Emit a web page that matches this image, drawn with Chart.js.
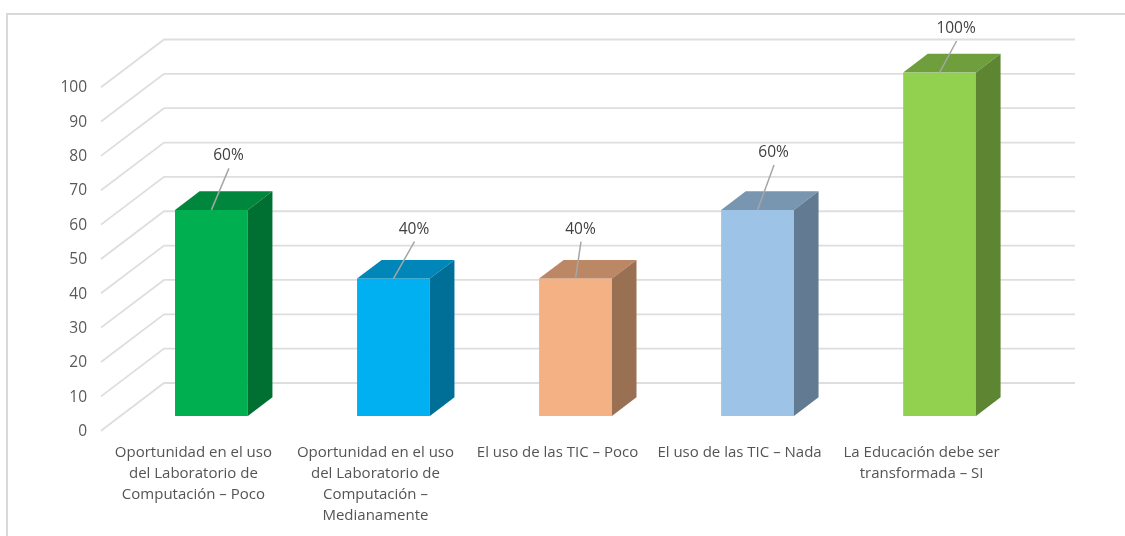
<!DOCTYPE html>
<html>
<head>
<meta charset="utf-8">
<style>
html,body{margin:0;padding:0;background:#fff;overflow:hidden}
canvas{display:block}
</style>
<script src="https://cdn.jsdelivr.net/npm/chart.js@4"></script>
</head>
<body>
<canvas id="c" width="1125" height="536"></canvas>
<script>
const categories = [
  ["Oportunidad en el uso", "del Laboratorio de", "Computación – Poco"],
  ["Oportunidad en el uso", "del Laboratorio de", "Computación –", "Medianamente"],
  ["El uso de las TIC – Poco"],
  ["El uso de las TIC – Nada"],
  ["La Educación debe ser", "transformada – SI"]
];
const values = [60, 40, 40, 60, 100];
const frontColors = ["#00B050", "#00B0F0", "#F4B183", "#9DC3E6", "#92D050"];
const topColors = ["#00873D", "#0086B8", "#BB8764", "#7896B0", "#6F9F3D"];
const sideColors = ["#006F32", "#006F98", "#9A7053", "#627A92", "#5E8532"];
const yMax = 100;
const yStep = 10;
// Label placement relative to each bar's top-centre: [dx, dy]
const labelOffsets = [[17, -54], [20.5, -49.5], [5, -49.5], [16, -57.5], [16.5, -44]];

const FONT = "'Open Sans'";

class ShiftedLinear extends Chart.LinearScale {
  _computeLabelItems(area) {
    const items = super._computeLabelItems(area);
    const t = this.options.ticks;
    items.forEach(i => { i.options.translation = [i.options.translation[0] + (t.shiftX || 0), i.options.translation[1] + (t.shiftY || 0)]; });
    return items;
  }
}
ShiftedLinear.id = "shiftedLinear";
ShiftedLinear.defaults = {};
class ShiftedCategory extends Chart.CategoryScale {
  _computeLabelItems(area) {
    const items = super._computeLabelItems(area);
    const t = this.options.ticks;
    items.forEach(i => { i.options.translation = [i.options.translation[0] + (t.shiftX || 0), i.options.translation[1] + (t.shiftY || 0)]; });
    return items;
  }
}
ShiftedCategory.id = "shiftedCategory";
ShiftedCategory.defaults = {};
Chart.register(ShiftedLinear, ShiftedCategory);

const scene3d = {
  id: "scene3d",
  beforeDraw(chart, args, o) {
    const c = chart.ctx;
    c.save();
    c.fillStyle = "#fff";
    c.fillRect(0, 0, chart.width, chart.height);
    c.strokeStyle = o.frameColor;
    c.lineWidth = 2;
    c.beginPath();
    c.moveTo(7, chart.height);
    c.lineTo(7, 14);
    c.lineTo(chart.width, 14);
    c.stroke();
    c.restore();
  },
  beforeDatasetsDraw(chart, args, o) {
    const c = chart.ctx, a = chart.chartArea, y = chart.scales.y;
    c.save();
    c.strokeStyle = o.gridColor;
    c.lineWidth = 1.8;
    y.ticks.forEach(t => {
      const p = y.getPixelForValue(t.value);
      c.beginPath();
      c.moveTo(a.left + o.front.x, p + o.front.y);
      c.lineTo(a.left + o.back.x, p + o.back.y);
      c.lineTo(a.right + o.backRightX, p + o.back.y);
      c.stroke();
    });
    c.restore();
  },
  afterDatasetsDraw(chart, args, o) {
    const c = chart.ctx;
    const d = o.depth;
    chart.getDatasetMeta(0).data.forEach((b, i) => {
      const l = b.x - b.width / 2, r = b.x + b.width / 2, t = b.y, bt = b.base;
      c.fillStyle = topColors[i];
      c.beginPath();
      c.moveTo(l, t); c.lineTo(l + d.x, t + d.y); c.lineTo(r + d.x, t + d.y); c.lineTo(r, t);
      c.closePath(); c.fill();
      c.fillStyle = sideColors[i];
      c.beginPath();
      c.moveTo(r, t); c.lineTo(r + d.x, t + d.y); c.lineTo(r + d.x, bt + d.y); c.lineTo(r, bt);
      c.closePath(); c.fill();
      const off = labelOffsets[i];
      const lx = b.x + off[0], ly = b.y + off[1];
      c.strokeStyle = "#a6a6a6";
      c.lineWidth = 1.5;
      c.beginPath();
      c.moveTo(lx + 0.5, ly + 12.5);
      c.lineTo(b.x, b.y);
      c.stroke();
      c.fillStyle = "#404040";
      c.font = "500 15.5px " + FONT;
      c.textAlign = "center";
      c.textBaseline = "middle";
      c.fillText(values[i] + "%", lx, ly);
    });
  }
};

new Chart(document.getElementById("c"), {
  type: "bar",
  plugins: [scene3d],
  data: {
    labels: categories,
    datasets: [{
      data: values,
      backgroundColor: frontColors,
      borderWidth: 0,
      barPercentage: 0.4,
      categoryPercentage: 1
    }]
  },
  options: {
    responsive: false,
    animation: false,
    devicePixelRatio: 1,
    layout: { padding: { left: 0, right: 94.4, top: 72.5, bottom: 0 } },
    plugins: {
      legend: { display: false },
      title: { display: false },
      tooltip: { enabled: false },
      scene3d: {
        frameColor: "#d9d9d9",
        gridColor: "#dedede",
        front: { x: -19.4, y: 14.7 },
        back: { x: 43.6, y: -33 },
        backRightX: 44.4,
        depth: { x: 24.6, y: -18.7 }
      }
    },
    scales: {
      x: {
        type: "shiftedCategory",
        offset: true,
        afterFit(s) { s.height = 120; },
        grid: { display: false, drawTicks: false },
        border: { display: false },
        ticks: {
          autoSkip: false, maxRotation: 0, minRotation: 0,
          padding: 26, shiftX: -18,
          color: "#545454",
          font: { family: FONT, size: 15, lineHeight: 1.4 }
        }
      },
      y: {
        type: "shiftedLinear",
        min: 0, max: yMax,
        afterFit(s) { s.width = 120.4; },
        grid: { display: false, drawTicks: false },
        border: { display: false },
        ticks: {
          stepSize: yStep, padding: 33.4, shiftY: 15.5,
          color: "#595959",
          font: { family: FONT, size: 15.5 }
        }
      }
    }
  }
});
</script>
</body>
</html>
